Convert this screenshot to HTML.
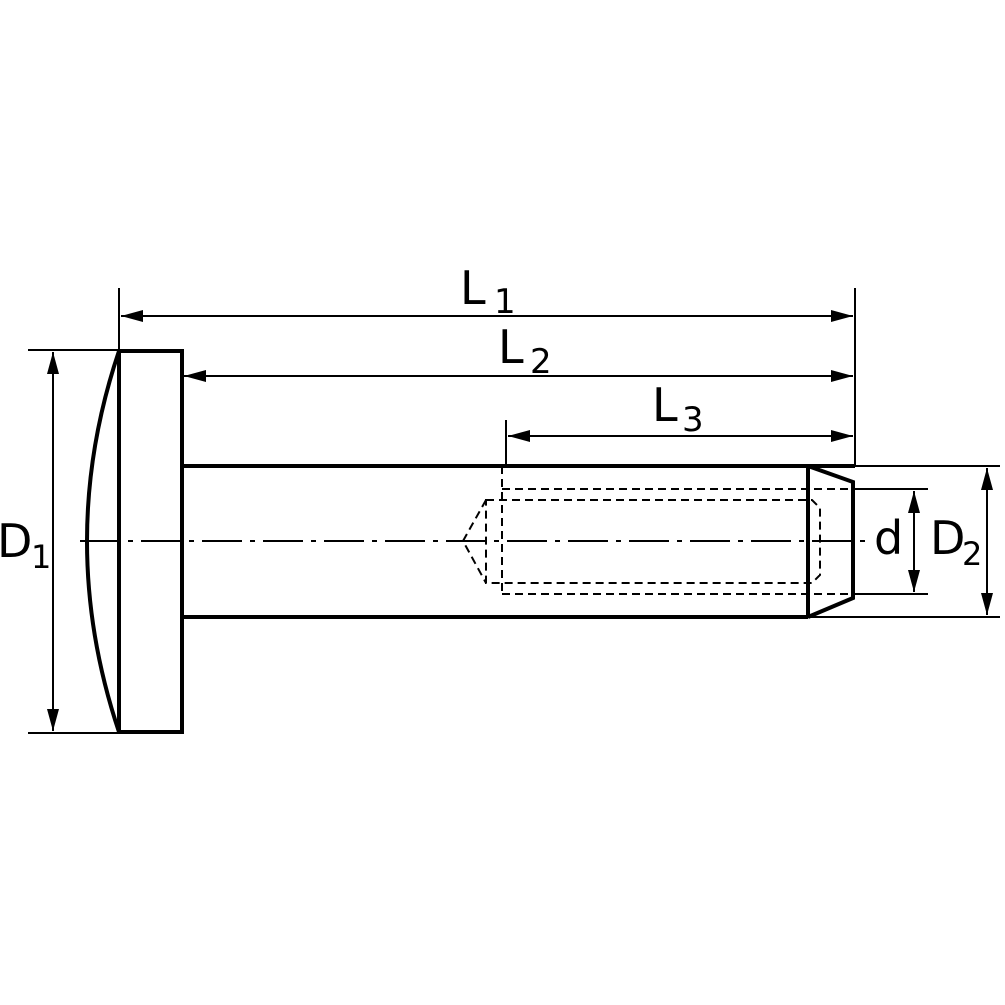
<!DOCTYPE html>
<html><head><style>html,body{margin:0;padding:0;background:#fff}svg{display:block}</style></head>
<body>
<svg width="1005" height="1005" viewBox="0 0 1005 1005" xmlns="http://www.w3.org/2000/svg" font-family="'DejaVu Sans','Liberation Sans',sans-serif">
<defs>
<marker id="a" viewBox="0 0 22 12" refX="22" refY="6" markerWidth="22" markerHeight="12" markerUnits="userSpaceOnUse" orient="auto-start-reverse"><path d="M0,0 L22,6 L0,12 z" fill="#000"/></marker>
</defs>
<g stroke="#000" fill="none">
<rect x="119" y="351" width="63" height="381" stroke-width="4"/>
<path d="M119,351 Q55,541 119,732" stroke-width="4"/>
<path d="M182,466 H855 M182,617 H808 M808,466 V617 M808,466 L853,482 V598 L808,617" stroke-width="4"/>
<line x1="855" y1="466" x2="1000" y2="466" stroke-width="2"/>
<line x1="808" y1="617" x2="1000" y2="617" stroke-width="2"/>
<line x1="855" y1="489" x2="928" y2="489" stroke-width="2"/>
<line x1="855" y1="594" x2="928" y2="594" stroke-width="2"/>
<line x1="914" y1="491" x2="914" y2="592" stroke-width="2" marker-start="url(#a)" marker-end="url(#a)"/>
<line x1="987" y1="468" x2="987" y2="615" stroke-width="2" marker-start="url(#a)" marker-end="url(#a)"/>
<g stroke-dasharray="8,5" stroke-width="2">
<path d="M502,489 H850 M502,594 H850 M502,466 V594"/>
<path d="M486,500 H812 L820,508 V575 L812,583 H486 Z"/>
<path d="M486,500 L463,541 L486,583"/>
</g>
<line x1="80" y1="541" x2="872" y2="541" stroke-width="2" stroke-dasharray="40,8,5,8"/>
<line x1="28" y1="350" x2="119" y2="350" stroke-width="2"/>
<line x1="28" y1="733" x2="119" y2="733" stroke-width="2"/>
<line x1="53" y1="352" x2="53" y2="731" stroke-width="2" marker-start="url(#a)" marker-end="url(#a)"/>
<line x1="119" y1="288" x2="119" y2="350" stroke-width="2"/>
<line x1="855" y1="288" x2="855" y2="466" stroke-width="2"/>
<line x1="506" y1="420" x2="506" y2="466" stroke-width="2"/>
<line x1="121" y1="316" x2="853" y2="316" stroke-width="2" marker-start="url(#a)" marker-end="url(#a)"/>
<line x1="184" y1="376" x2="853" y2="376" stroke-width="2" marker-start="url(#a)" marker-end="url(#a)"/>
<line x1="508" y1="436" x2="853" y2="436" stroke-width="2" marker-start="url(#a)" marker-end="url(#a)"/>
</g>
<g fill="#000">
<text x="460" y="304" font-size="46">L</text><text x="494" y="313" font-size="34">1</text>
<text x="498" y="363" font-size="46">L</text><text x="530" y="373" font-size="34">2</text>
<text x="652" y="421" font-size="46">L</text><text x="682" y="431" font-size="34">3</text>
<text x="-3" y="557" font-size="46">D</text><text x="31" y="568" font-size="32">1</text>
<text x="874" y="554" font-size="46">d</text>
<text x="930" y="554" font-size="46">D</text><text x="962" y="565" font-size="32">2</text>
</g>
</svg>
</body></html>
